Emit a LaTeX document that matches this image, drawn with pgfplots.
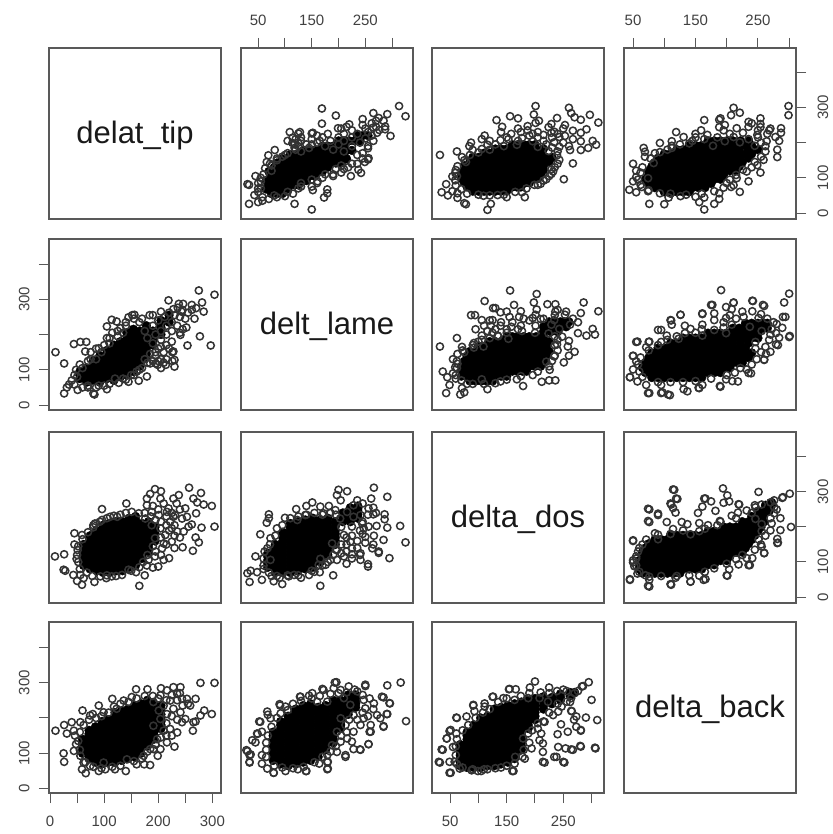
\documentclass[border=0pt]{standalone}
\usepackage{fontspec}
\setmainfont{Liberation Sans}
\usepackage{pgfplots}
\usepackage{pgfplotstable}
\pgfplotsset{compat=1.18}

% values, one pair of variables per table.
% core* = the solid part of each cloud, where the rings overplot to black: drawn with filled marks
\pgfplotstableread[row sep=\\]{T L\\
55 75\\55 95\\68 65\\68 85\\68 105\\80 70\\80 90\\80 110\\80 125\\92 65\\92 85\\92 105\\92 125\\92 140\\
105 75\\105 95\\105 115\\105 135\\105 155\\118 70\\118 90\\118 110\\118 130\\118 150\\118 170\\
130 80\\130 100\\130 120\\130 140\\130 160\\130 180\\142 85\\142 105\\142 125\\142 145\\142 165\\142 185\\142 205\\
154 95\\154 115\\154 135\\154 155\\154 175\\154 195\\154 215\\166 110\\166 130\\166 150\\166 170\\166 190\\166 210\\
178 135\\178 155\\178 175\\178 195\\178 215\\178 225\\190 170\\190 190\\190 210\\205 200\\205 220\\205 240\\220 235\\220 255\\
55 85\\68 75\\68 95\\80 80\\80 100\\80 118\\92 75\\92 95\\92 115\\92 132\\105 85\\105 105\\105 125\\105 145\\118 80\\118 100\\118 120\\118 140\\118 160\\
130 90\\130 110\\130 130\\130 150\\130 170\\142 95\\142 115\\142 135\\142 155\\142 175\\142 195\\154 105\\154 125\\154 145\\154 165\\154 185\\154 205\\
166 120\\166 140\\166 160\\166 180\\166 200\\178 145\\178 165\\178 185\\178 205\\190 180\\190 200\\205 210\\205 230\\220 245\\
}\coreTL
\pgfplotstableread[row sep=\\]{T L\\
10 150\\26 118\\44 173\\56 179\\67 179\\65 152\\26 33\\31 50\\51 43\\80 33\\82 30\\105 45\\90 161\\105 223\\114 242\\123 237\\
130 218\\105 190\\145 249\\156 256\\190 255\\205 265\\219 297\\238 287\\246 287\\243 265\\262 284\\275 325\\281 291\\304 313\\
284 265\\267 245\\252 220\\297 169\\277 195\\254 169\\241 199\\228 152\\230 128\\230 109\\214 114\\199 114\\185 118\\179 81\\
164 69\\145 66\\127 63\\226 125\\226 150\\184 255\\152 255\\
190 225\\200 240\\212 250\\220 262\\228 272\\236 276\\245 270\\255 262\\262 270\\270 275\\230 255\\240 250\\250 245\\225 235\\
235 225\\245 215\\215 225\\205 210\\215 200\\225 210\\240 205\\195 200\\205 185\\215 170\\225 180\\210 150\\200 160\\190 175\\
195 140\\205 130\\220 160\\185 145\\175 130\\170 105\\160 95\\190 125\\180 190\\175 210\\165 235\\170 245\\155 245\\140 235\\
135 205\\125 195\\115 205\\110 175\\95 150\\85 130\\75 130\\70 125\\55 115\\48 100\\45 85\\40 70\\35 58\\45 58\\60 50\\70 55\\
90 55\\110 60\\120 75\\140 72\\155 85\\215 130\\210 120\\205 105\\200 125\\195 118\\
75 150\\85 160\\100 170\\110 190\\125 210\\140 225\\60 105\\50 80\\70 50\\85 50\\100 55\\135 75\\150 85\\165 100\\180 120\\195 150\\205 165\\
}\ringTL

\pgfplotstableread[row sep=\\]{T D\\
62 90\\62 110\\62 130\\62 150\\74 80\\74 100\\74 120\\74 140\\74 160\\74 175\\86 75\\86 95\\86 115\\86 135\\86 155\\86 175\\86 190\\
98 70\\98 90\\98 110\\98 130\\98 150\\98 170\\98 190\\98 205\\110 70\\110 90\\110 110\\110 130\\110 150\\110 170\\110 190\\110 210\\
122 75\\122 95\\122 115\\122 135\\122 155\\122 175\\122 195\\122 215\\134 75\\134 95\\134 115\\134 135\\134 155\\134 175\\134 195\\134 215\\
146 85\\146 105\\146 125\\146 145\\146 165\\146 185\\146 205\\146 225\\158 90\\158 110\\158 130\\158 150\\158 170\\158 190\\158 210\\158 230\\
170 110\\170 130\\170 150\\170 170\\170 190\\170 210\\182 130\\182 150\\182 170\\182 190\\182 215\\194 160\\194 180\\194 200\\
62 100\\62 120\\62 140\\74 90\\74 110\\74 130\\74 150\\74 168\\86 85\\86 105\\86 125\\86 145\\86 165\\86 183\\98 80\\98 100\\98 120\\98 140\\98 160\\98 180\\98 198\\
110 80\\110 100\\110 120\\110 140\\110 160\\110 180\\110 200\\122 85\\122 105\\122 125\\122 145\\122 165\\122 185\\122 205\\134 85\\134 105\\134 125\\134 145\\134 165\\134 185\\134 205\\
146 95\\146 115\\146 135\\146 155\\146 175\\146 195\\146 215\\158 100\\158 120\\158 140\\158 160\\158 180\\158 200\\158 220\\170 120\\170 140\\170 160\\170 180\\170 200\\
182 140\\182 160\\182 180\\182 202\\194 170\\194 190\\
}\coreTD
\pgfplotstableread[row sep=\\]{T D\\
9 116\\26 122\\28 75\\25 78\\43 63\\50 46\\59 35\\82 43\\104 54\\165 32\\175 62\\159 71\\179 90\\190 84\\220 111\\264 132\\245 142\\
275 156\\269 170\\304 201\\280 198\\262 207\\270 239\\257 312\\279 297\\265 281\\272 270\\284 264\\299 260\\238 291\\228 281\\205 302\\
194 308\\185 294\\179 281\\179 262\\210 267\\141 267\\96 251\\80 199\\45 182\\45 150\\51 134\\49 109\\59 177\\
188 243\\201 234\\219 253\\231 234\\244 224\\250 253\\234 267\\222 215\\204 196\\213 177\\225 158\\207 139\\194 116\\182 106\\235 187\\
247 187\\210 153\\194 168\\188 205\\176 224\\164 239\\151 243\\124 229\\111 229\\96 220\\83 210\\225 196\\253 229\\256 201\\204 281\\
216 243\\228 229\\210 106\\200 87\\145 78\\133 63\\114 59\\93 59\\62 54\\56 63\\
186 230\\195 220\\205 215\\215 230\\225 240\\200 250\\190 260\\215 205\\230 205\\240 170\\230 175\\220 190\\205 170\\215 150\\230 140\\205 120\\195 130\\190 145\\180 120\\172 100\\165 85\\150 75\\
122 60\\105 62\\78 60\\68 70\\55 80\\52 100\\50 120\\52 145\\60 165\\70 185\\80 205\\92 215\\105 225\\118 232\\130 235\\140 240\\175 240\\240 250\\
}\ringTD

\pgfplotstableread[row sep=\\]{T B\\
60 100\\60 120\\60 140\\72 85\\72 105\\72 125\\72 145\\72 165\\84 75\\84 95\\84 115\\84 135\\84 155\\84 175\\
96 70\\96 90\\96 110\\96 130\\96 150\\96 170\\96 190\\108 75\\108 95\\108 115\\108 135\\108 155\\108 175\\108 195\\
120 75\\120 95\\120 115\\120 135\\120 155\\120 175\\120 195\\120 215\\132 80\\132 100\\132 120\\132 140\\132 160\\132 180\\132 200\\132 220\\
144 85\\144 105\\144 125\\144 145\\144 165\\144 185\\144 205\\144 225\\156 90\\156 110\\156 130\\156 150\\156 170\\156 190\\156 210\\156 235\\
168 100\\168 120\\168 140\\168 160\\168 180\\168 200\\168 220\\168 240\\180 120\\180 140\\180 160\\180 180\\180 200\\180 220\\180 250\\
192 140\\192 160\\192 180\\192 200\\192 220\\192 240\\205 170\\205 190\\205 210\\205 235\\
60 110\\60 130\\72 95\\72 115\\72 135\\72 155\\84 85\\84 105\\84 125\\84 145\\84 165\\96 80\\96 100\\96 120\\96 140\\96 160\\96 180\\108 85\\108 105\\108 125\\108 145\\108 165\\108 185\\
120 85\\120 105\\120 125\\120 145\\120 165\\120 185\\120 205\\132 90\\132 110\\132 130\\132 150\\132 170\\132 190\\132 210\\144 95\\144 115\\144 135\\144 155\\144 175\\144 195\\144 215\\
156 100\\156 120\\156 140\\156 160\\156 180\\156 200\\156 222\\168 110\\168 130\\168 150\\168 170\\168 190\\168 210\\168 230\\180 130\\180 150\\180 170\\180 190\\180 210\\180 235\\
192 150\\192 170\\192 190\\192 210\\192 230\\205 180\\205 200\\205 222\\
}\coreTB
\pgfplotstableread[row sep=\\]{T B\\
10 164\\26 180\\31 156\\40 188\\44 164\\56 188\\25 100\\26 76\\44 107\\60 221\\79 211\\90 235\\115 254\\59 55\\66 44\\90 50\\102 55\\
120 55\\140 50\\160 69\\174 69\\185 67\\199 93\\230 119\\216 131\\235 159\\264 164\\269 190\\278 207\\285 221\\299 211\\278 299\\304 299\\
269 254\\259 235\\253 254\\241 287\\228 287\\205 284\\180 281\\159 281\\136 249\\151 259\\244 188\\222 169\\
191 245\\204 264\\216 278\\222 249\\235 268\\244 254\\228 226\\216 211\\204 197\\191 178\\210 164\\198 140\\191 112\\204 112\\241 216\\
250 197\\265 188\\210 235\\201 221\\46 150\\48 126\\56 93\\62 74\\74 64\\99 74\\142 83\\173 93\\185 112\\74 207\\99 216\\123 226\\
200 255\\215 250\\225 265\\235 250\\245 235\\225 205\\235 195\\215 185\\225 150\\215 150\\205 145\\195 125\\180 105\\170 85\\155 78\\130 65\\115 62\\95 58\\80 62\\65 75\\55 110\\52 135\\55 160\\
62 180\\72 195\\85 200\\95 205\\108 215\\118 232\\130 240\\145 245\\160 255\\175 262\\190 262\\240 270\\255 240\\
}\ringTB

\pgfplotstableread[row sep=\\]{L D\\
68 85\\68 105\\68 125\\82 70\\82 90\\82 110\\82 130\\82 150\\96 70\\96 90\\96 110\\96 130\\96 150\\96 170\\96 185\\
110 70\\110 90\\110 110\\110 130\\110 150\\110 170\\110 190\\110 210\\124 75\\124 95\\124 115\\124 135\\124 155\\124 175\\124 195\\124 215\\
138 80\\138 100\\138 120\\138 140\\138 160\\138 180\\138 200\\138 220\\152 85\\152 105\\152 125\\152 145\\152 165\\152 185\\152 205\\152 225\\
166 100\\166 120\\166 140\\166 160\\166 180\\166 200\\166 220\\180 120\\180 140\\180 160\\180 180\\180 200\\180 225\\
194 150\\194 170\\194 190\\194 215\\208 215\\208 240\\222 215\\222 235\\222 255\\236 225\\236 245\\236 260\\
68 95\\68 115\\82 80\\82 100\\82 120\\82 140\\96 80\\96 100\\96 120\\96 140\\96 160\\96 178\\110 80\\110 100\\110 120\\110 140\\110 160\\110 180\\110 200\\
124 85\\124 105\\124 125\\124 145\\124 165\\124 185\\124 205\\138 90\\138 110\\138 130\\138 150\\138 170\\138 190\\138 210\\152 95\\152 115\\152 135\\152 155\\152 175\\152 195\\152 215\\
166 110\\166 130\\166 150\\166 170\\166 190\\166 210\\180 130\\180 150\\180 170\\180 190\\180 212\\194 160\\194 180\\194 202\\208 228\\222 225\\222 245\\236 235\\236 252\\
}\coreLD
\pgfplotstableread[row sep=\\]{L D\\
30 68\\36 75\\34 43\\45 116\\54 179\\66 212\\70 236\\70 225\\95 37\\166 32\\190 62\\165 71\\255 87\\255 94\\295 111\\325 156\\315 203\\
291 198\\291 286\\266 312\\261 281\\216 302\\200 306\\197 291\\151 270\\140 260\\121 251\\100 226\\286 236\\286 222\\265 236\\271 203\\
284 163\\275 130\\263 139\\241 125\\241 106\\225 122\\197 106\\185 106\\166 109\\266 175\\247 196\\250 172\\222 158\\210 177\\225 139\\
210 116\\197 134\\188 153\\235 276\\245 267\\256 253\\228 262\\216 243\\203 224\\228 229\\241 234\\225 201\\244 210\\256 201\\204 276\\
182 260\\166 258\\172 239\\194 248\\48 71\\57 49\\79 45\\107 59\\73 106\\67 139\\73 168\\85 196\\123 220\\138 234\\145 63\\163 92\\176 92\\117 63\\
275 126\\265 150\\245 180\\250 155\\240 120\\235 140\\225 110\\215 130\\205 150\\215 95\\60 110\\60 90\\75 60\\90 55\\130 55\\150 75\\
195 235\\185 240\\170 235\\155 240\\140 235\\125 230\\110 225\\95 205\\82 175\\72 150\\62 130\\205 200\\195 135\\205 125\\190 120\\180 100\\170 90\\155 72\\125 62\\105 62\\85 60\\70 70\\60 80\\
215 170\\225 175\\235 160\\245 215\\255 235\\265 255\\270 240\\240 190\\215 150\\
}\ringLD

\pgfplotstableread[row sep=\\]{L B\\
78 80\\78 100\\78 120\\78 140\\78 160\\92 70\\92 90\\92 110\\92 130\\92 150\\92 170\\92 190\\
106 65\\106 85\\106 105\\106 125\\106 145\\106 165\\106 185\\106 205\\120 70\\120 90\\120 110\\120 130\\120 150\\120 170\\120 190\\120 210\\120 225\\
134 75\\134 95\\134 115\\134 135\\134 155\\134 175\\134 195\\134 215\\134 235\\148 80\\148 100\\148 120\\148 140\\148 160\\148 180\\148 200\\148 220\\148 240\\
162 90\\162 110\\162 130\\162 150\\162 170\\162 190\\162 210\\162 230\\176 110\\176 130\\176 150\\176 170\\176 190\\176 210\\176 235\\
190 130\\190 150\\190 170\\190 190\\190 210\\190 230\\190 250\\204 170\\204 190\\204 210\\204 230\\204 250\\218 210\\218 230\\218 250\\218 265\\232 230\\232 250\\232 265\\
78 90\\78 110\\78 130\\78 150\\92 80\\92 100\\92 120\\92 140\\92 160\\92 180\\106 75\\106 95\\106 115\\106 135\\106 155\\106 175\\106 195\\120 80\\120 100\\120 120\\120 140\\120 160\\120 180\\120 200\\120 218\\
134 85\\134 105\\134 125\\134 145\\134 165\\134 185\\134 205\\134 225\\148 90\\148 110\\148 130\\148 150\\148 170\\148 190\\148 210\\148 230\\162 100\\162 120\\162 140\\162 160\\162 180\\162 200\\162 220\\
176 120\\176 140\\176 160\\176 180\\176 200\\176 222\\190 140\\190 160\\190 180\\190 200\\190 220\\190 240\\204 180\\204 200\\204 220\\204 240\\218 220\\218 240\\218 258\\232 240\\232 258\\
}\coreLB
\pgfplotstableread[row sep=\\]{L B\\
28 109\\36 97\\34 76\\39 137\\48 156\\54 189\\67 218\\90 239\\101 232\\92 213\\129 260\\145 263\\151 270\\196 301\\219 289\\250 294\\291 292\\316 300\\
326 191\\281 260\\296 241\\291 211\\284 175\\260 161\\256 126\\240 111\\228 112\\213 95\\180 57\\180 76\\164 71\\140 50\\124 55\\101 50\\79 45\\67 57\\
57 71\\57 95\\191 284\\172 279\\204 279\\235 275\\247 251\\266 241\\250 227\\272 208\\247 199\\241 180\\260 180\\278 199\\228 161\\216 142\\225 133\\
204 133\\197 104\\179 95\\160 246\\179 246\\210 256\\222 237\\228 208\\213 180\\204 199\\197 161\\73 199\\57 161\\188 123\\
179 55\\139 50\\79 45\\34 74\\34 95\\30 106\\45 131\\49 155\\52 190\\68 209\\91 235\\128 260\\170 282\\193 300\\250 290\\284 258\\295 242\\290 211\\284 177\\258 161\\256 126\\241 110\\213 90\\179 75\\
65 90\\65 110\\65 130\\68 150\\75 175\\85 200\\105 222\\115 240\\130 248\\150 255\\165 262\\185 268\\200 270\\215 272\\230 280\\245 265\\258 255\\265 225\\255 205\\245 215\\235 195\\220 195\\215 160\\
205 150\\195 120\\185 105\\170 90\\155 75\\135 62\\115 58\\95 60\\80 65\\
}\ringLB

\pgfplotstableread[row sep=\\]{D B\\
68 65\\68 85\\68 105\\68 125\\80 60\\80 80\\80 100\\80 120\\80 140\\80 160\\92 60\\92 80\\92 100\\92 120\\92 140\\92 160\\92 180\\
104 60\\104 80\\104 100\\104 120\\104 140\\104 160\\104 180\\104 200\\116 65\\116 85\\116 105\\116 125\\116 145\\116 165\\116 185\\116 205\\
128 65\\128 85\\128 105\\128 125\\128 145\\128 165\\128 185\\128 205\\128 225\\140 70\\140 90\\140 110\\140 130\\140 150\\140 170\\140 190\\140 210\\140 230\\
152 75\\152 95\\152 115\\152 135\\152 155\\152 175\\152 195\\152 215\\152 235\\164 85\\164 105\\164 125\\164 145\\164 165\\164 185\\164 205\\164 225\\164 240\\
176 110\\176 130\\176 150\\176 170\\176 190\\176 210\\176 230\\176 245\\188 170\\188 190\\188 210\\188 230\\188 250\\200 195\\200 215\\200 235\\200 255\\
215 225\\215 245\\215 260\\230 240\\230 258\\245 250\\245 268\\262 262\\262 272\\270 272\\
68 75\\68 95\\68 115\\80 70\\80 90\\80 110\\80 130\\80 150\\92 70\\92 90\\92 110\\92 130\\92 150\\92 170\\104 70\\104 90\\104 110\\104 130\\104 150\\104 170\\104 190\\
116 75\\116 95\\116 115\\116 135\\116 155\\116 175\\116 195\\128 75\\128 95\\128 115\\128 135\\128 155\\128 175\\128 195\\128 215\\140 80\\140 100\\140 120\\140 140\\140 160\\140 180\\140 200\\140 220\\
152 85\\152 105\\152 125\\152 145\\152 165\\152 185\\152 205\\152 225\\164 95\\164 115\\164 135\\164 155\\164 175\\164 195\\164 215\\164 232\\176 120\\176 140\\176 160\\176 180\\176 200\\176 220\\176 238\\
188 180\\188 200\\188 220\\188 240\\200 205\\200 225\\200 245\\215 235\\215 252\\230 249\\245 259\\
}\coreDB
\pgfplotstableread[row sep=\\]{D B\\
30 76\\35 111\\49 45\\49 76\\49 163\\44 142\\61 201\\91 237\\111 241\\126 260\\154 281\\166 281\\191 286\\200 303\\225 286\\239 276\\256 276\\283 289\\295 301\\
300 251\\310 194\\290 201\\273 204\\264 220\\281 164\\273 175\\258 161\\240 154\\246 182\\306 116\\280 121\\264 111\\254 114\\241 118\\234 90\\250 76\\214 76\\
214 104\\214 128\\182 85\\160 50\\140 60\\116 55\\99 50\\88 52\\67 57\\58 76\\223 246\\208 256\\188 256\\164 251\\144 256\\111 232\\79 204\\61 156\\55 118\\
211 156\\205 170\\217 189\\232 208\\247 232\\264 256\\270 270\\276 276\\256 246\\241 218\\194 114\\179 142\\188 156\\208 137\\164 71\\
307 114\\281 119\\252 74\\217 74\\238 90\\267 110\\281 166\\269 195\\265 219\\285 290\\155 282\\125 260\\91 235\\93 219\\62 200\\51 166\\44 142\\37 110\\32 74\\51 45\\105 50\\162 50\\
62 70\\60 95\\60 120\\62 140\\72 165\\82 180\\95 200\\108 215\\120 225\\135 245\\150 255\\175 262\\190 270\\210 272\\225 270\\250 280\\262 245\\240 240\\225 215\\215 190\\205 185\\195 165\\190 130\\
180 110\\178 90\\165 90\\150 65\\130 58\\110 55\\90 55\\72 60\\
}\ringDB

\definecolor{boxgray}{gray}{0.35}
\pgfplotsset{
  panel/.style={scale only axis, width=172pt, height=171pt, anchor=south west,
    axis line style={draw=boxgray, line width=1.2pt},
    tick style={draw=boxgray, line width=1pt}, tick align=outside, major tick length=10pt,
    tick label style={font=\fontsize{15}{16}\selectfont, text=black!75},
    xtick=\empty, ytick=\empty, clip=false},
  col1/.style={xmin=-2, xmax=316},
  col2/.style={xmin=18, xmax=339},
  col3/.style={xmin=18, xmax=322},
  col4/.style={xmin=35.5, xmax=311},
  row1/.style={ymin=-17, ymax=469},
  row2/.style={ymin=-14, ymax=471},
  row3/.style={ymin=-17, ymax=471},
  row4/.style={ymin=-12, ymax=471},
  xbot/.style={xtick pos=bottom, xticklabel pos=bottom, xticklabel shift=9pt},
  xtop/.style={xtick pos=top, xticklabel pos=top, xticklabel shift=9pt,
    xtick={50,100,...,300}, xticklabels={50,,150,,250,}},
  yleft/.style={ytick={0,100,200,300,400}, yticklabels={0,100,,300,}, ytick pos=left, yticklabel pos=left,
    yticklabel shift=6pt, yticklabel style={rotate=90, anchor=south}},
  yright/.style={ytick={0,100,200,300,400}, yticklabels={0,100,,300,}, ytick pos=right, yticklabel pos=right,
    yticklabel shift=8pt, yticklabel style={rotate=90, anchor=north}},
}
\newcommand{\pairpanel}[7]{%
  \begin{axis}[panel, at={(#1pt,#2pt)}, #3]
    \addplot[only marks, mark=*, mark size=4.4pt, mark options={draw=none, fill=black}] table[x=#4, y=#5] {#6};
    \addplot[only marks, mark=o, mark size=3.6pt, mark options={draw=black!80, line width=1.5pt}] table[x=#4, y=#5] {#7};
  \end{axis}}
\newcommand{\namepanel}[3]{%
  \begin{axis}[panel, at={(#1pt,#2pt)}, xmin=0, xmax=1, ymin=0, ymax=1]
    \node[font=\fontsize{31}{33}\selectfont, text=black!90] at (axis cs:0.5,0.49) {#3};
  \end{axis}}

\begin{document}
\begin{tikzpicture}
\useasboundingbox (0pt,0pt) rectangle (832pt,834pt);
% row 1
\namepanel{49}{615}{delat\_tip}
\pairpanel{241}{615}{col2, row1, xtop}{L}{T}{\coreTL}{\ringTL}
\pairpanel{432}{615}{col3, row1}{D}{T}{\coreTD}{\ringTD}
\pairpanel{624}{615}{col4, row1, xtop, yright}{B}{T}{\coreTB}{\ringTB}
% row 2
\pairpanel{49}{424}{col1, row2, yleft}{T}{L}{\coreTL}{\ringTL}
\namepanel{241}{424}{delt\_lame}
\pairpanel{432}{424}{col3, row2}{D}{L}{\coreLD}{\ringLD}
\pairpanel{624}{424}{col4, row2}{B}{L}{\coreLB}{\ringLB}
% row 3
\pairpanel{49}{231}{col1, row3}{T}{D}{\coreTD}{\ringTD}
\pairpanel{241}{231}{col2, row3}{L}{D}{\coreLD}{\ringLD}
\namepanel{432}{231}{delta\_dos}
\pairpanel{624}{231}{col4, row3, yright}{B}{D}{\coreDB}{\ringDB}
% row 4
\pairpanel{49}{41}{col1, row4, yleft, xbot, xtick={0,50,...,300}, xticklabels={0,,100,,200,,300,}}{T}{B}{\coreTB}{\ringTB}
\pairpanel{241}{41}{col2, row4}{L}{B}{\coreLB}{\ringLB}
\pairpanel{432}{41}{col3, row4, xbot, xtick={50,100,...,300}, xticklabels={50,,150,,250,}}{D}{B}{\coreDB}{\ringDB}
\namepanel{624}{41}{delta\_back}
\end{tikzpicture}
\end{document}
